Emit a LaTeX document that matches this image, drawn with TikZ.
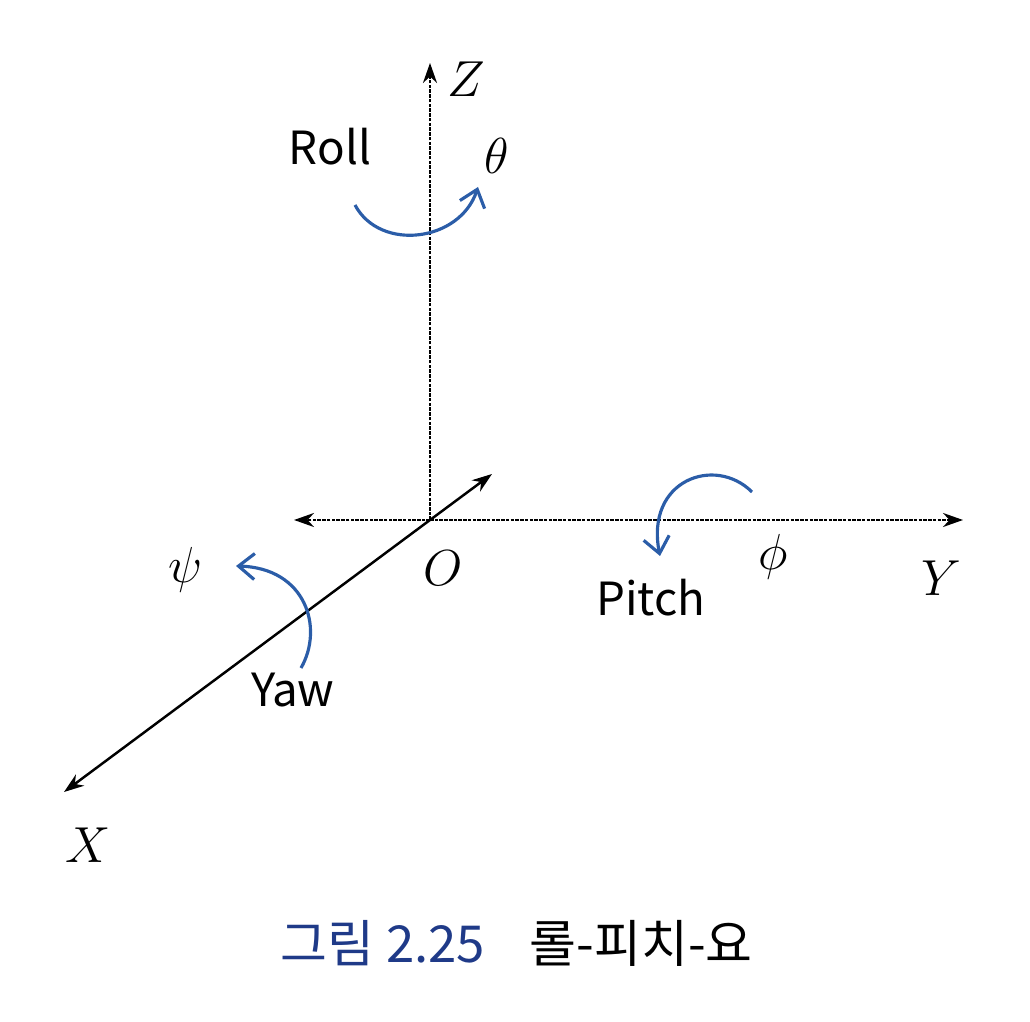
\documentclass[tikz,border=0pt]{standalone}
\usepackage{fontspec}
\newfontfamily\kr{Noto Sans CJK KR}
\usepackage{xcolor}
\usetikzlibrary{arrows.meta,positioning}
\definecolor{arcblue}{HTML}{2B5DA8}
\definecolor{capblue}{HTML}{1F3A88}
\tikzset{
  axis/.style={line width=0.7pt, -{Stealth[length=2mm,width=1.4mm]}},
  dotaxis/.style={axis, dash pattern=on 1pt off 0.35pt},
  rot/.style={arcblue, line width=0.9pt, -{Straight Barb[length=1.6mm,width=2.6mm]}},
  word/.style={font=\kr\fontsize{13}{15}\selectfont},
  sym/.style={font=\fontsize{14}{16}\selectfont}
}
\begin{document}
\begin{tikzpicture}[x=0.1mm, y=-0.1mm]
    \useasboundingbox (0,0) rectangle (1030,1022);
    % axes
    \coordinate (O) at (430,520);
    \coordinate (Ztip) at (430,63);
    \coordinate (Ytip) at (963,520);
    \coordinate (Yneg) at (294,520);
    \coordinate (Xtip) at (64,792);
    \coordinate (Xneg) at (492,474);
    \draw[dotaxis] (O) -- (Ztip);
    \draw[dotaxis] (O) -- (Ytip);
    \draw[dotaxis] (O) -- (Yneg);
    \draw[axis] (O) -- (Xtip);
    \draw[axis] (O) -- (Xneg);
    \node[sym] (zlab) at (466,79) {$Z$};
    \node[sym] (ylab) at (941,578) {$Y$};
    \node[sym] (xlab) at (88,845) {$X$};
    \node[sym] (olab) at (443,568) {$O$};

    % roll
    \node[word] (roll) at (330,147) {Roll};
    \node[sym] (theta) at (497,156) {$\theta$};
    \coordinate (rollA) at (355,205);
    \coordinate (rollB) at (478,187);
    \draw[rot] (rollA) .. controls (380,252) and (460,242) .. (rollB);

    % pitch
    \node[word] (pitch) at (651,598) {Pitch};
    \node[sym] (phi) at (773,557) {$\phi$};
    \coordinate (pitchA) at (752,492);
    \coordinate (pitchB) at (660,556);
    \draw[rot] (pitchA) .. controls (715,455) and (645,480) .. (pitchB);

    % yaw
    \node[word] (yaw) at (293,690) {Yaw};
    \node[sym] (psi) at (186,570) {$\psi$};
    \coordinate (yawA) at (301,668);
    \coordinate (yawB) at (236,566);
    \draw[rot] (yawA) .. controls (324,628) and (306,568) .. (yawB);

    % caption
    \node[font=\kr\fontsize{14.5}{18}\selectfont, text=capblue] (cap) at (383,943) {그림 2.25};
    \node[font=\kr\fontsize{14.5}{18}\selectfont, right=2mm of cap] (captitle) {롤-피치-요};
\end{tikzpicture}
\end{document}
